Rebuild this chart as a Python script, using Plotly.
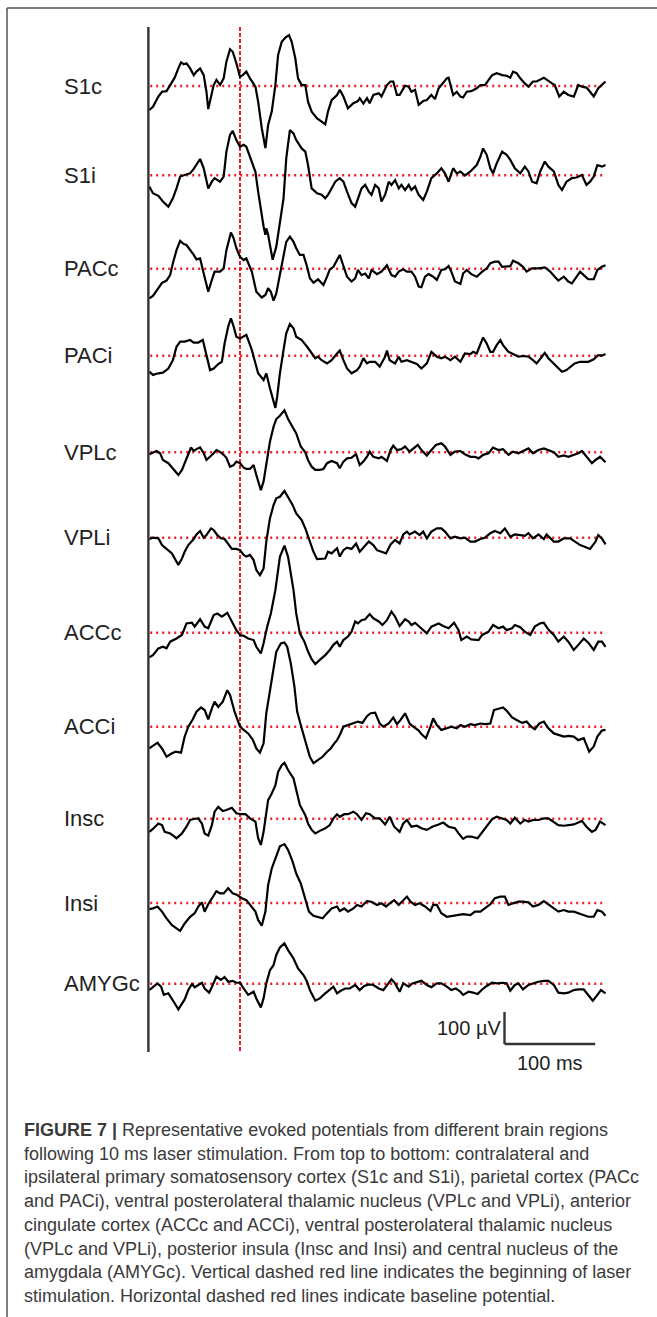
import plotly.graph_objects as go

# ---------------- data (time in ms, potential in µV) ----------------
S1C = [(-100,-75),(-96,-65),(-90,-33),(-86,-18),(-81,-16),(-75,14),(-72,26),(-68,55),(-65,74),(-62,68),(-59,71),(-55,55),(-51,34),(-48,45),(-44,55),(-40,34),(-37,-18),(-35,-72),(-32,-38),(-29,3),(-26,19),(-22,3),(-18,24),(-15,76),(-11,115),(-8,107),(-4,71),(0,29),(3,34),(7,45),(11,24),(17,-2),(20,-49),(24,-132),(28,-194),(31,-122),(35,-80),(39,3),(42,97),(46,138),(50,151),(54,159),(57,138),(61,86),(64,24),(68,3),(72,3),(75,-49),(79,-80),(85,-101),(90,-111),(94,-120),(97,-80),(101,-44),(107,-28),(110,-12),(114,-33),(119,-70),(125,-54),(130,-47),(132,-38),(136,-55),(140,-38),(143,-54),(147,-28),(153,-23),(156,-33),(162,3),(166,14),(169,14),(173,-28),(176,-28),(182,1),(186,-2),(189,-18),(193,-12),(197,-59),(202,-47),(206,-44),(211,-28),(215,-41),(219,-7),(222,3),(228,24),(230,26),(233,-7),(235,-28),(239,-18),(243,-33),(246,-36),(250,-18),(255,-16),(261,-7),(265,3),(270,3),(278,34),(283,40),(289,34),(294,32),(298,26),(301,45),(305,40),(309,24),(314,8),(318,-2),(323,14),(327,14),(335,26),(338,19),(344,8),(347,3),(352,-33),(357,-18),(362,-28),(368,-33),(373,3),(377,-2),(382,-5),(386,-18),(390,-33),(395,-7),(403,14)]

S1I = [(-100,-35),(-96,-56),(-90,-64),(-85,-82),(-79,-98),(-74,-72),(-70,-41),(-66,-4),(-61,1),(-55,6),(-51,20),(-48,32),(-44,51),(-40,22),(-37,-20),(-35,-41),(-31,-20),(-28,-9),(-22,-20),(-18,-4),(-15,74),(-11,126),(-8,139),(-4,110),(0,89),(4,95),(7,89),(13,43),(17,11),(20,-51),(24,-129),(26,-160),(28,-186),(29,-166),(31,-186),(36,-264),(40,-223),(44,-150),(46,-108),(48,-72),(51,53),(55,141),(59,131),(62,110),(68,84),(72,74),(75,32),(79,-41),(85,-56),(90,-61),(94,-72),(97,-61),(101,-41),(105,-20),(110,-9),(114,-20),(118,-51),(123,-87),(127,-98),(130,-72),(134,-41),(138,-30),(142,-51),(145,-61),(149,-30),(153,-41),(156,-82),(160,-61),(164,-20),(167,-30),(171,-15),(175,-41),(178,-30),(182,-46),(186,-30),(189,-46),(193,-35),(197,-61),(202,-77),(206,-51),(211,-9),(217,6),(222,22),(226,6),(230,-20),(235,22),(239,6),(243,12),(248,-1),(254,12),(257,22),(261,32),(265,58),(268,84),(272,64),(276,22),(279,6),(283,37),(289,74),(294,64),(298,48),(303,22),(309,6),(314,27),(318,12),(322,-20),(327,-25),(331,12),(336,43),(340,27),(346,12),(351,-30),(355,-46),(360,-20),(366,-9),(371,-7),(377,1),(382,-30),(386,-20),(390,-4),(394,32),(399,27),(403,32)]

PACC = [(-100,-93),(-96,-85),(-90,-61),(-86,-44),(-81,-37),(-77,-20),(-74,17),(-70,58),(-66,87),(-62,77),(-59,74),(-55,60),(-51,43),(-48,29),(-44,32),(-40,-15),(-35,-72),(-31,-35),(-28,-9),(-22,-9),(-18,1),(-15,58),(-10,113),(-7,95),(-4,64),(0,37),(4,27),(7,32),(13,-9),(18,-72),(24,-90),(28,-82),(31,-61),(34,-72),(37,-100),(40,-77),(44,-15),(48,48),(51,84),(55,100),(59,84),(62,64),(66,43),(70,43),(74,6),(77,-30),(81,-44),(86,-33),(92,-51),(96,-25),(99,-2),(103,6),(107,27),(110,43),(113,17),(118,-25),(123,-40),(127,-30),(130,-4),(134,-20),(138,-15),(142,-30),(145,-4),(151,-17),(156,-9),(162,11),(167,-20),(171,-25),(175,-9),(180,-2),(184,-9),(189,-9),(193,-25),(197,-56),(200,-58),(204,-25),(208,-17),(213,-25),(217,-35),(222,-4),(226,-2),(230,8),(233,-9),(237,-40),(243,-48),(246,-15),(250,-4),(255,-17),(261,-25),(267,-9),(272,1),(276,17),(281,22),(285,22),(289,6),(294,6),(298,8),(301,25),(307,17),(312,6),(316,-9),(322,1),(329,1),(336,4),(342,-9),(347,-25),(351,-37),(357,-25),(362,-40),(366,-46),(371,-25),(375,-9),(379,-20),(384,-33),(390,-33),(394,-4),(399,6),(403,11)]

PACI = [(-100,-50),(-96,-60),(-90,-55),(-85,-53),(-79,-40),(-74,-14),(-70,28),(-66,44),(-61,44),(-55,49),(-51,41),(-46,41),(-41,49),(-37,-3),(-33,-45),(-29,-40),(-24,-26),(-20,-19),(-17,38),(-13,91),(-10,117),(-7,91),(-4,59),(0,54),(4,59),(7,65),(13,18),(17,-29),(20,-55),(26,-76),(29,-55),(33,-102),(35,-123),(37,-149),(39,-163),(41,-128),(44,-55),(48,18),(51,70),(55,99),(59,86),(62,59),(68,49),(74,28),(79,7),(83,-8),(86,-3),(90,-14),(96,-24),(101,-14),(107,7),(110,16),(114,-14),(118,-40),(123,-55),(129,-45),(132,-34),(136,-8),(140,-24),(143,-19),(149,-19),(154,-34),(160,-3),(162,16),(165,-14),(171,-24),(175,-3),(178,-19),(184,-14),(189,-19),(195,-26),(200,-40),(206,-24),(211,12),(217,-3),(222,-8),(226,-3),(232,-14),(237,-3),(243,-19),(248,7),(254,5),(257,12),(261,7),(265,38),(268,57),(272,38),(276,12),(279,12),(283,33),(287,49),(290,33),(296,12),(301,5),(307,-3),(312,-1),(318,-3),(323,-14),(327,-24),(333,-3),(336,9),(340,-8),(346,-24),(351,-40),(355,-50),(360,-45),(366,-29),(369,-24),(375,-19),(380,-19),(384,-19),(390,-11),(395,2),(399,0),(403,5)]

VPLC = [(-100,-6),(-96,0),(-92,4),(-88,-3),(-85,-24),(-79,-34),(-74,-52),(-68,-71),(-64,-55),(-61,-34),(-57,-6),(-54,15),(-51,4),(-48,10),(-44,15),(-40,-3),(-37,-24),(-33,-14),(-29,-3),(-26,7),(-22,1),(-18,-8),(-15,-17),(-11,-45),(-7,-40),(-4,-29),(0,-34),(4,-48),(7,-52),(11,-52),(15,-40),(18,-71),(23,-118),(26,-91),(29,-40),(33,33),(37,80),(40,104),(44,114),(49,131),(53,104),(58,80),(62,59),(67,18),(72,0),(75,-24),(79,-45),(83,-55),(88,-55),(92,-52),(96,-34),(101,-27),(107,-34),(110,-50),(114,-29),(118,-19),(123,-17),(128,-6),(132,-40),(136,-29),(140,-14),(143,2),(147,-14),(153,-19),(156,-14),(162,-27),(166,7),(169,21),(173,7),(178,10),(182,18),(187,2),(191,12),(196,23),(200,7),(206,-10),(211,7),(216,23),(222,28),(226,18),(232,-8),(237,2),(243,4),(248,-6),(254,-14),(259,-14),(263,-19),(268,-8),(274,-3),(279,15),(285,7),(290,10),(296,-8),(301,2),(307,-3),(312,4),(318,12),(323,-3),(329,7),(335,12),(340,7),(346,0),(351,-14),(357,-10),(362,-14),(368,-8),(373,-3),(377,4),(382,-14),(388,-34),(392,-24),(397,-14),(403,-31)]

VPLI = [(-100,-4),(-96,0),(-90,-2),(-86,-23),(-81,-35),(-75,-49),(-72,-65),(-68,-85),(-64,-65),(-61,-44),(-57,-23),(-51,-4),(-48,10),(-44,21),(-40,0),(-37,8),(-32,29),(-29,24),(-25,8),(-21,-2),(-17,-4),(-13,-21),(-9,-35),(-4,-35),(0,-39),(4,-54),(7,-59),(11,-54),(15,-70),(18,-101),(22,-117),(26,-96),(29,-12),(33,60),(37,102),(40,123),(44,128),(49,146),(53,128),(58,102),(62,76),(68,55),(72,29),(77,-12),(81,-44),(85,-67),(90,-65),(94,-65),(97,-44),(101,-49),(107,-33),(110,-59),(114,-39),(118,-31),(123,-35),(128,-18),(132,-44),(137,-28),(142,-12),(147,-23),(151,-39),(156,-44),(161,-49),(166,-21),(171,-7),(176,-18),(180,10),(184,19),(187,10),(193,19),(198,8),(202,19),(206,-2),(211,19),(217,29),(222,29),(226,19),(232,-2),(237,3),(243,-2),(248,0),(254,-12),(259,-12),(265,-4),(270,0),(276,14),(281,21),(287,14),(292,29),(298,3),(303,10),(309,8),(314,6),(318,14),(323,-2),(329,10),(335,-4),(338,10),(346,-12),(351,-12),(357,-2),(364,-2),(369,-12),(375,-23),(380,-28),(386,-35),(392,-12),(395,8),(399,-2),(403,-21)]

ACCC = [(-100,-77),(-96,-70),(-90,-49),(-85,-44),(-81,-49),(-77,-28),(-70,-18),(-64,-7),(-59,29),(-53,31),(-50,19),(-44,42),(-39,19),(-35,14),(-29,55),(-25,60),(-20,50),(-14,62),(-9,35),(-4,8),(0,-7),(4,-10),(9,-18),(15,-23),(18,-44),(23,-65),(26,-33),(30,19),(34,60),(37,101),(39,133),(44,237),(49,272),(53,237),(57,175),(59,133),(62,60),(66,-2),(71,-28),(75,-59),(79,-83),(83,-98),(88,-85),(94,-70),(99,-54),(103,-38),(107,-28),(110,-44),(114,-23),(119,-12),(123,3),(127,35),(130,29),(134,39),(138,42),(143,58),(147,45),(153,35),(157,24),(162,39),(167,66),(171,50),(176,21),(182,42),(186,35),(189,24),(193,31),(198,19),(206,-2),(211,19),(219,29),(224,21),(230,14),(236,31),(241,8),(244,-23),(250,-12),(255,-21),(263,-23),(267,-7),(274,3),(279,24),(285,14),(290,19),(294,8),(300,14),(303,24),(309,17),(314,3),(320,-7),(325,19),(331,29),(335,31),(340,10),(346,-7),(351,-28),(357,-12),(362,-28),(368,-54),(373,-38),(379,-18),(384,-31),(390,-54),(395,-28),(399,-28),(403,-44)]

ACCI = [(-100,-68),(-96,-60),(-91,-50),(-86,-68),(-81,-94),(-75,-83),(-71,-78),(-65,-81),(-61,-31),(-57,0),(-52,23),(-48,47),(-43,60),(-39,52),(-35,23),(-31,57),(-28,78),(-24,62),(-19,78),(-14,114),(-11,99),(-6,47),(0,0),(4,-10),(9,-21),(14,-40),(18,-68),(22,-81),(26,-52),(29,42),(33,114),(37,177),(40,234),(45,260),(49,263),(52,250),(56,198),(60,125),(63,47),(68,-5),(73,-52),(77,-94),(81,-114),(86,-104),(91,-94),(96,-78),(100,-68),(104,-52),(107,-42),(110,-26),(114,0),(119,5),(125,10),(130,16),(135,12),(140,33),(144,42),(149,44),(154,10),(158,0),(164,10),(169,29),(173,8),(177,21),(182,42),(187,10),(191,0),(197,-12),(200,-23),(205,-36),(210,0),(213,26),(217,5),(222,-10),(228,-5),(233,0),(239,-5),(243,5),(248,0),(254,8),(259,5),(265,10),(270,8),(276,10),(280,52),(285,57),(290,60),(294,50),(300,29),(305,21),(311,12),(316,16),(321,0),(325,-8),(330,10),(335,16),(340,-5),(346,-21),(351,-26),(357,-31),(362,-29),(368,-31),(373,-42),(379,-36),(382,-57),(385,-78),(390,-62),(394,-31),(399,-12),(403,-10)]

INSC = [(-100,-41),(-96,-32),(-90,-15),(-86,-20),(-83,-41),(-77,-46),(-70,-61),(-64,-46),(-59,-25),(-55,-4),(-51,-1),(-46,1),(-42,-15),(-39,-46),(-35,-53),(-31,-20),(-28,22),(-24,37),(-19,24),(-15,27),(-9,34),(-4,17),(1,14),(6,14),(11,1),(17,-9),(20,-61),(23,-82),(26,-41),(31,58),(35,79),(39,104),(42,146),(46,167),(49,175),(53,152),(59,126),(62,90),(66,43),(72,11),(75,-15),(79,-35),(83,-46),(88,-38),(94,-30),(99,-20),(103,1),(107,14),(110,6),(115,14),(119,14),(125,22),(129,14),(134,-4),(139,17),(143,14),(149,1),(154,1),(160,-18),(165,6),(170,-25),(176,-41),(180,-15),(184,-4),(189,-25),(195,-22),(200,-30),(206,-35),(212,-25),(219,-18),(224,-12),(230,-25),(237,-30),(241,-46),(246,-63),(250,-56),(255,-56),(262,-61),(267,-41),(272,-25),(278,-1),(283,6),(289,1),(294,-4),(298,-15),(303,3),(309,-15),(314,-4),(318,-9),(323,-4),(329,-4),(335,1),(340,1),(346,-9),(351,-20),(357,-22),(362,-20),(368,-18),(373,-12),(377,-7),(382,-25),(388,-41),(392,-35),(397,-9),(403,-20)]

INSI = [(-100,-19),(-96,-17),(-91,-11),(-86,-27),(-81,-48),(-75,-69),(-70,-79),(-66,-87),(-61,-64),(-55,-43),(-50,-32),(-46,-11),(-42,2),(-39,-27),(-35,-4),(-31,15),(-26,37),(-22,30),(-18,30),(-13,46),(-8,30),(-3,25),(2,15),(7,9),(11,-6),(17,-27),(20,-53),(24,-71),(28,-27),(31,56),(35,108),(40,145),(44,177),(49,184),(53,166),(58,129),(62,92),(67,61),(72,15),(76,-27),(81,-40),(86,-43),(91,-48),(96,-32),(101,-17),(107,-11),(110,-25),(115,-17),(119,-27),(125,-17),(129,-6),(134,-11),(140,6),(145,4),(151,-6),(156,-1),(161,-11),(165,-1),(170,9),(175,-6),(180,9),(184,20),(188,4),(193,-6),(198,-1),(204,-11),(210,-25),(213,-6),(217,-6),(222,-32),(228,-43),(235,-40),(241,-38),(246,-35),(254,-38),(259,-27),(265,-27),(270,-17),(276,-4),(281,15),(287,20),(292,20),(296,-6),(301,-1),(307,4),(312,4),(318,2),(323,-11),(329,-6),(335,6),(340,-4),(346,-17),(351,-27),(357,-22),(362,-27),(368,-27),(373,-32),(379,-38),(384,-43),(390,-43),(394,-22),(399,-27),(403,-40)]

AMYGC = [(-100,-20),(-96,-11),(-91,1),(-87,-9),(-84,-35),(-79,-30),(-75,-46),(-72,-61),(-68,-80),(-64,-61),(-61,-49),(-57,-20),(-53,-1),(-50,-11),(-46,-4),(-42,3),(-39,-15),(-34,-28),(-30,-4),(-26,22),(-21,12),(-17,21),(-13,6),(-8,9),(-4,3),(0,3),(4,-15),(9,-35),(15,-25),(18,-46),(23,-74),(26,-46),(29,1),(33,42),(37,58),(40,90),(44,113),(49,126),(53,105),(59,79),(64,48),(70,27),(74,6),(77,-20),(83,-53),(88,-46),(94,-30),(99,-18),(103,-9),(107,-30),(111,-22),(116,-15),(121,-15),(127,-4),(132,-20),(137,-7),(142,-2),(147,-4),(153,-15),(158,-20),(162,-4),(167,14),(171,1),(176,-25),(180,1),(186,-9),(190,1),(195,6),(200,9),(206,-4),(211,-11),(217,1),(222,1),(228,-9),(233,-20),(238,-15),(243,-25),(246,-35),(252,-25),(257,-28),(262,-32),(267,-18),(272,-7),(278,3),(283,1),(289,3),(294,1),(298,-22),(303,-4),(307,1),(312,-18),(318,-4),(323,1),(329,6),(335,9),(340,9),(346,-4),(351,-28),(357,-30),(362,-28),(368,-20),(373,-18),(379,-18),(384,-35),(389,-53),(393,-39),(398,-20),(403,-30)]

REGIONS = ["S1c", "S1i", "PACc", "PACi", "VPLc", "VPLi", "ACCc", "ACCi", "Insc", "Insi", "AMYGc"]
SERIES = [S1C, S1I, PACC, PACI, VPLC, VPLI, ACCC, ACCI, INSC, INSI, AMYGC]

SCALE_BAR_UV = 100
SCALE_BAR_MS = 100

CAPTION_BOLD = "FIGURE 7 |"
CAPTION_LINES = [
    " Representative evoked potentials from different brain regions",
    "following 10 ms laser stimulation. From top to bottom: contralateral and",
    "ipsilateral primary somatosensory cortex (S1c and S1i), parietal cortex (PACc",
    "and PACi), ventral posterolateral thalamic nucleus (VPLc and VPLi), anterior",
    "cingulate cortex (ACCc and ACCi), ventral posterolateral thalamic nucleus",
    "(VPLc and VPLi), posterior insula (Insc and Insi) and central nucleus of the",
    "amygdala (AMYGc). Vertical dashed red line indicates the beginning of laser",
    "stimulation. Horizontal dashed red lines indicate baseline potential.",
]

# ---------------- layout geometry (page pixels) ----------------
W, H = 657, 1317
PX_PER_MS = 0.907
PX_PER_UV = 0.32
STIM_X_PX = 240
BASELINE_PX = [86, 175.3, 268.7, 355.7, 452.3, 537.7, 632.7, 726.7, 818.7, 903, 983.7]
AXIS_TOP_PX, AXIS_BOT_PX = 27, 1052
AXIS_X_MS = -101
BAR_X_PX, BAR_Y_PX = 504.5, 1044
LABEL_X_PX = 62
CAP_X_PX, CAP_Y0_PX, CAP_DY_PX = 22, 1130, 23.7
RED = "#ee1c24"
FONT = "Liberation Sans, Arial, sans-serif"


def ypx(p):
    return -p / PX_PER_UV


def xpx(p):
    return (p - STIM_X_PX) / PX_PER_MS


fig = go.Figure()

t_start = min(t for t, _ in SERIES[0])
t_end = max(t for t, _ in SERIES[0])

for name, ser, base in zip(REGIONS, SERIES, BASELINE_PX):
    # baseline (dotted red)
    fig.add_trace(go.Scatter(x=[t_start + 1, t_end], y=[ypx(base), ypx(base)], mode="lines",
                             line=dict(color=RED, width=2.4, dash="2px,4px"),
                             hoverinfo="skip", showlegend=False))
    fig.add_trace(go.Scatter(x=[t for t, _ in ser], y=[v + ypx(base) for _, v in ser],
                             mode="lines", line=dict(color="black", width=2.2),
                             name=name, showlegend=False))
    fig.add_annotation(x=LABEL_X_PX / W, xref="paper", y=ypx(base), yref="y",
                       text=name, showarrow=False, xanchor="left", yanchor="middle",
                       font=dict(family=FONT, size=22, color="#222"))

# stimulation onset (vertical dashed red)
fig.add_shape(type="line", x0=0, x1=0, y0=ypx(AXIS_TOP_PX), y1=ypx(AXIS_BOT_PX),
              line=dict(color=RED, width=2, dash="4px,2px"), layer="below")
# left vertical axis line
fig.add_shape(type="line", x0=AXIS_X_MS, x1=AXIS_X_MS, y0=ypx(AXIS_TOP_PX), y1=ypx(AXIS_BOT_PX),
              line=dict(color="#333", width=2.4))

# scale bar
bx = xpx(BAR_X_PX)
by = ypx(BAR_Y_PX)
fig.add_shape(type="line", x0=bx, x1=bx, y0=by, y1=by + SCALE_BAR_UV, line=dict(color="#333", width=2.4))
fig.add_shape(type="line", x0=bx, x1=bx + SCALE_BAR_MS, y0=by, y1=by, line=dict(color="#333", width=2.4))
fig.add_annotation(x=bx - 2, y=by + SCALE_BAR_UV / 2, text=f"{SCALE_BAR_UV} µV", showarrow=False,
                   xanchor="right", yanchor="middle",
                   font=dict(family=FONT, size=20, color="#222"))
fig.add_annotation(x=bx + SCALE_BAR_MS / 2, y=by - 6 / PX_PER_UV, text=f"{SCALE_BAR_MS} ms", showarrow=False,
                   xanchor="center", yanchor="top",
                   font=dict(family=FONT, size=20, color="#222"))

# caption
for i, line in enumerate(CAPTION_LINES):
    txt = (f"<b>{CAPTION_BOLD}</b>" + line) if i == 0 else line
    fig.add_annotation(x=CAP_X_PX / W, xref="paper", y=1 - (CAP_Y0_PX + i * CAP_DY_PX) / H, yref="paper",
                       text=txt, showarrow=False, xanchor="left", yanchor="middle",
                       font=dict(family=FONT, size=18, color="#3a3a3a"))

# frame border (top and left)
fig.add_shape(type="line", xref="paper", yref="paper", x0=7 / W, x1=1, y0=1 - 8 / H, y1=1 - 8 / H,
              line=dict(color="#555", width=1.5))
fig.add_shape(type="line", xref="paper", yref="paper", x0=7 / W, x1=7 / W, y0=0, y1=1 - 8 / H,
              line=dict(color="#555", width=1.5))

fig.update_layout(
    width=W, height=H, margin=dict(l=0, r=0, t=0, b=0),
    paper_bgcolor="white", plot_bgcolor="white",
    xaxis=dict(range=[xpx(0), xpx(W)], visible=False, fixedrange=True),
    yaxis=dict(range=[ypx(H), 0], visible=False, fixedrange=True),
)

fig.write_html("out.html", config={"displayModeBar": False},
               post_script="document.body.style.margin='0';document.body.style.overflow='hidden';")
